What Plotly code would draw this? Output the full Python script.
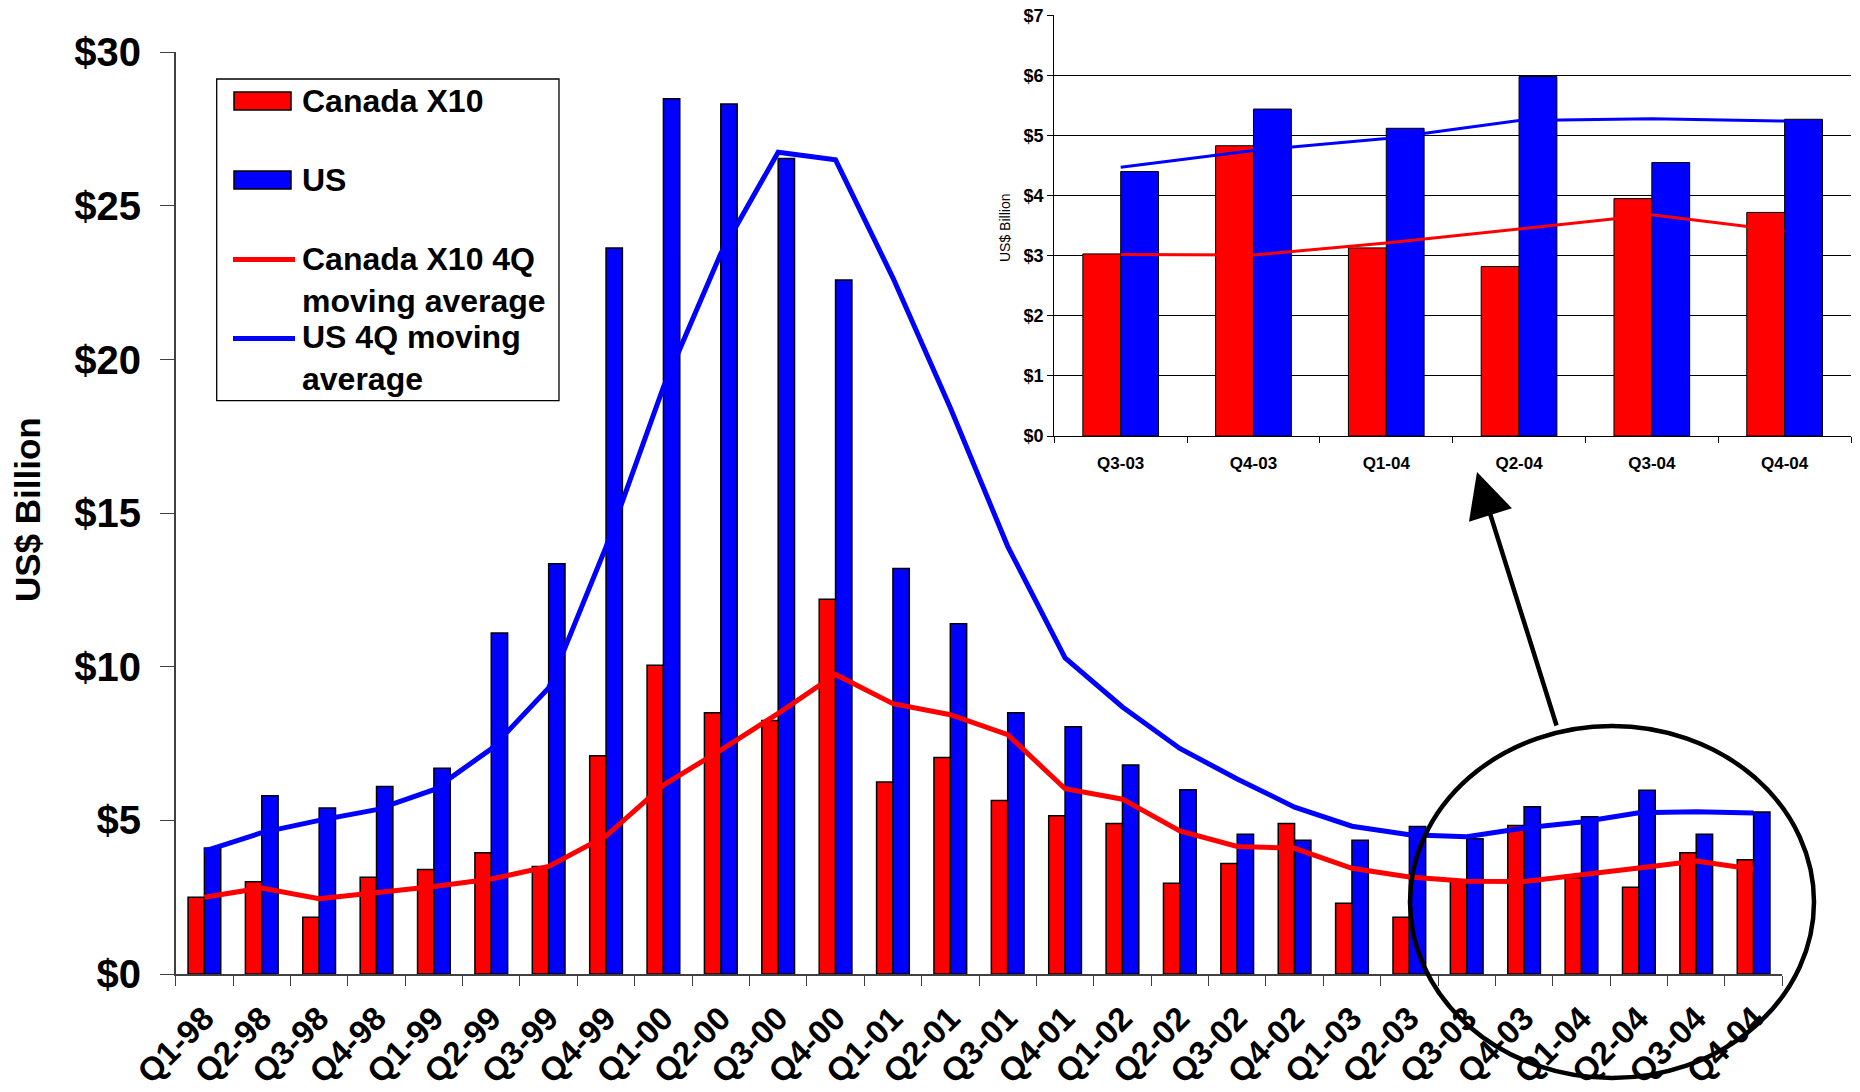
import plotly.graph_objects as go

# ---------------- data ----------------
quarters = ["Q1-98", "Q2-98", "Q3-98", "Q4-98", "Q1-99", "Q2-99", "Q3-99", "Q4-99",
            "Q1-00", "Q2-00", "Q3-00", "Q4-00", "Q1-01", "Q2-01", "Q3-01", "Q4-01",
            "Q1-02", "Q2-02", "Q3-02", "Q4-02", "Q1-03", "Q2-03", "Q3-03", "Q4-03",
            "Q1-04", "Q2-04", "Q3-04", "Q4-04"]
canada_x10 = [2.5, 3.0, 1.85, 3.15, 3.4, 3.95, 3.5, 7.1, 10.05, 8.5, 8.25, 12.2,
              6.25, 7.05, 5.65, 5.15, 4.9, 2.95, 3.6, 4.9, 2.3, 1.85, 3.03, 4.83,
              3.13, 2.82, 3.95, 3.72]
us = [4.1, 5.8, 5.4, 6.1, 6.7, 11.1, 13.35, 23.63, 28.49, 28.32, 26.54, 22.59,
      13.2, 11.4, 8.5, 8.05, 6.8, 6.0, 4.55, 4.35, 4.35, 4.8, 4.4, 5.44,
      5.12, 5.98, 4.55, 5.27]
canada_ma = [2.5, 2.8, 2.45, 2.63, 2.85, 3.09, 3.5, 4.49, 6.15, 7.29, 8.48, 9.75,
             8.8, 8.44, 7.79, 6.03, 5.69, 4.66, 4.15, 4.09, 3.44, 3.16, 3.02, 3.01,
             3.21, 3.45, 3.68, 3.41]
us_ma = [4.0, 4.6, 5.0, 5.35, 6.0, 7.33, 9.31, 13.9, 19.1, 23.45, 26.75, 26.5,
         22.66, 18.43, 13.92, 10.29, 8.69, 7.34, 6.35, 5.43, 4.81, 4.53, 4.47, 4.75,
         4.95, 5.25, 5.28, 5.24]
inset_n = 6  # last six quarters shown in the zoomed inset

series_names = ["Canada X10", "US", "Canada X10 4Q moving average", "US 4Q moving average"]

RED = "#FF0000"
BLUE = "#0000FF"
FONT = "Liberation Sans, Arial, sans-serif"

# body margin is removed in the page (post_script), so figure = window pixels
W, H = 1860, 1092
def px(x):
    return x / W
def py(y):
    return 1 - y / H

fig = go.Figure()

# ---------------- main chart ----------------
fig.add_trace(go.Bar(x=quarters, y=canada_x10, name=series_names[0],
                     marker=dict(color=RED, line=dict(color="black", width=1.5)),
                     xaxis="x", yaxis="y", showlegend=False))
fig.add_trace(go.Bar(x=quarters, y=us, name=series_names[1],
                     marker=dict(color=BLUE, line=dict(color="black", width=1.5)),
                     xaxis="x", yaxis="y", showlegend=False))
fig.add_trace(go.Scatter(x=quarters, y=canada_ma, name=series_names[2], mode="lines",
                         line=dict(color=RED, width=5), xaxis="x", yaxis="y",
                         showlegend=False))
fig.add_trace(go.Scatter(x=quarters, y=us_ma, name=series_names[3], mode="lines",
                         line=dict(color=BLUE, width=5), xaxis="x", yaxis="y",
                         showlegend=False))

# ---------------- inset chart ----------------
iq = quarters[-inset_n:]
fig.add_trace(go.Bar(x=iq, y=canada_x10[-inset_n:], name=series_names[0],
                     marker=dict(color=RED, line=dict(color="black", width=1)),
                     xaxis="x2", yaxis="y2", showlegend=False))
fig.add_trace(go.Bar(x=iq, y=us[-inset_n:], name=series_names[1],
                     marker=dict(color=BLUE, line=dict(color="black", width=1)),
                     xaxis="x2", yaxis="y2", showlegend=False))
fig.add_trace(go.Scatter(x=iq, y=canada_ma[-inset_n:], name=series_names[2], mode="lines",
                         line=dict(color=RED, width=3), xaxis="x2", yaxis="y2",
                         showlegend=False))
fig.add_trace(go.Scatter(x=iq, y=us_ma[-inset_n:], name=series_names[3], mode="lines",
                         line=dict(color=BLUE, width=3), xaxis="x2", yaxis="y2",
                         showlegend=False))

AX = "#404040"
fig.update_layout(
    width=W, height=H,
    margin=dict(l=0, r=0, t=0, b=0, autoexpand=False),
    paper_bgcolor="white", plot_bgcolor="white",
    font=dict(family=FONT, color="black"),
    barmode="group", bargap=0.43, bargroupgap=0,
    xaxis=dict(domain=[px(175.7), px(1782.3)], anchor="y",
               type="category", showline=True, linecolor=AX, linewidth=1.5,
               ticks="outside", tickson="boundaries", ticklen=10, tickcolor=AX,
               tickangle=-45, ticklabelstandoff=10,
               tickfont=dict(family=FONT, size=33, weight="bold"),
               showgrid=False, zeroline=False),
    yaxis=dict(domain=[py(974), py(52.3)], anchor="x", range=[0, 30], dtick=5,
               tickprefix="$", showline=True, linecolor=AX, linewidth=1.5,
               ticks="outside", ticklen=14, tickcolor=AX, ticklabelstandoff=11,
               tickfont=dict(family=FONT, size=40, weight="bold"),
               showgrid=False, zeroline=False),
    xaxis2=dict(domain=[px(1054.3), px(1851)], anchor="y2",
                type="category", showline=True, linecolor="black", linewidth=1.2,
                ticks="outside", tickson="boundaries", ticklen=6, tickcolor="black",
                ticklabelstandoff=11,
                tickfont=dict(family=FONT, size=17, weight="bold"),
                showgrid=False, zeroline=False),
    yaxis2=dict(domain=[py(436), py(15.3)], anchor="x2", range=[0, 7], dtick=1,
                tickprefix="$", showline=True, linecolor="black", linewidth=1.2,
                ticks="outside", ticklen=6, tickcolor="black",
                tickfont=dict(family=FONT, size=18, weight="bold"),
                showgrid=True, gridcolor="black", gridwidth=1, zeroline=False),
)

annotations = []
shapes = []

# main y-axis title
annotations.append(dict(x=px(27), y=py(510), xref="paper", yref="paper",
                        text="US$ Billion", textangle=-90, showarrow=False,
                        font=dict(family=FONT, size=35, weight="bold"),
                        xanchor="center", yanchor="middle"))
# inset y-axis title
annotations.append(dict(x=px(1005), y=py(228), xref="paper", yref="paper",
                        text="US$ Billion", textangle=-90, showarrow=False,
                        font=dict(family=FONT, size=14),
                        xanchor="center", yanchor="middle"))

# manual legend (box, swatches and labels)
shapes.append(dict(type="rect", xref="paper", yref="paper",
                   x0=px(216.7), x1=px(559), y0=py(400.7), y1=py(79),
                   line=dict(color="black", width=1.3), fillcolor="white", layer="above"))
leg_items = [
    ("bar", RED, series_names[0], 101, 101),
    ("bar", BLUE, series_names[1], 180, 180),
    ("line", RED, "Canada X10 4Q<br>moving average", 259.5, 280),
    ("line", BLUE, "US 4Q moving<br>average", 338.5, 358),
]
for kind, col, label, ys, yt in leg_items:
    if kind == "bar":
        shapes.append(dict(type="rect", xref="paper", yref="paper",
                           x0=px(234), x1=px(291), y0=py(ys + 9), y1=py(ys - 9),
                           fillcolor=col, line=dict(color="black", width=1.5), layer="above"))
    else:
        shapes.append(dict(type="line", xref="paper", yref="paper",
                           x0=px(233), x1=px(295), y0=py(ys), y1=py(ys),
                           line=dict(color=col, width=5), layer="above"))
    annotations.append(dict(x=px(300), y=py(yt), xref="paper", yref="paper",
                            text=label, showarrow=False, align="left",
                            xanchor="left", yanchor="middle",
                            font=dict(family=FONT, size=32, weight="bold")))

# ellipse around the last quarters
shapes.append(dict(type="circle", xref="paper", yref="paper",
                   x0=px(1410), x1=px(1814), y0=py(1078), y1=py(726),
                   line=dict(color="black", width=4.5), layer="above"))

# arrow from ellipse to inset
annotations.append(dict(x=px(1477), y=py(472), xref="paper", yref="paper",
                        ax=80, ay=255, axref="pixel", ayref="pixel",
                        text="", showarrow=True, arrowhead=2, arrowsize=2,
                        arrowwidth=4.5, arrowcolor="black", standoff=0, startstandoff=0))

fig.update_layout(annotations=annotations, shapes=shapes)

fig.write_html("out.html",
               config={"displayModeBar": False},
               post_script="document.body.style.margin='0';"
                           "document.body.style.overflow='hidden';")
